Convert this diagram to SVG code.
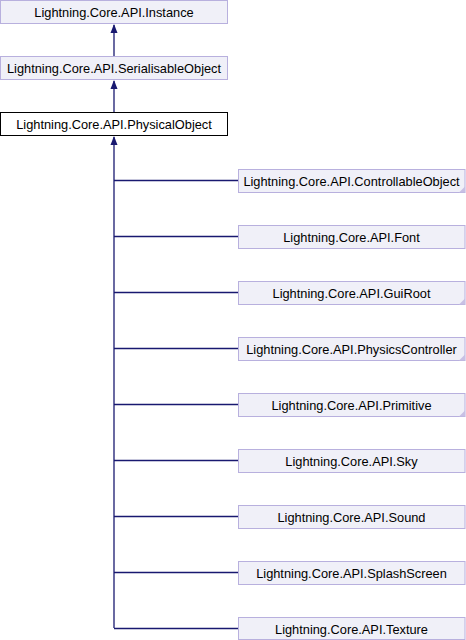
<svg xmlns="http://www.w3.org/2000/svg" width="466" height="640" viewBox="0 0 466 640">
<style>
.box{fill:#f0f0f8;stroke:#b8b0de;stroke-width:1}
.cur{fill:#ffffff;stroke:#000000;stroke-width:1}
.lbl{font-family:"Liberation Sans",Arial,sans-serif;font-size:12.8px;fill:#000;text-anchor:middle}
.edge{fill:none;stroke:#191970;stroke-width:1.3}
.fold{fill:#c8c0e4;stroke:none}
.head{fill:#191970}
</style>
<rect width="466" height="640" fill="#ffffff"/>
<g id="connectors">
<path class="edge" d="M114,56 V25"/>
<path class="edge" d="M114,112 V81"/>
<path class="edge" d="M114,628 V137"/>
<path class="head" d="M114,24 L110.5,33 L117.5,33 Z"/>
<path class="head" d="M114,80 L110.5,89 L117.5,89 Z"/>
<path class="head" d="M114,136 L110.5,145 L117.5,145 Z"/>
<path class="edge" d="M114,180.5 H238"/>
<path class="edge" d="M114,236.5 H238"/>
<path class="edge" d="M114,292.5 H238"/>
<path class="edge" d="M114,348.5 H238"/>
<path class="edge" d="M114,404.5 H238"/>
<path class="edge" d="M114,460.5 H238"/>
<path class="edge" d="M114,516.5 H238"/>
<path class="edge" d="M114,572.5 H238"/>
<path class="edge" d="M114,628.5 H238"/>
</g>
<g id="instance"><rect class="box" x="0.5" y="0.5" width="227" height="23"/><text class="lbl" x="114" y="16.5">Lightning.Core.API.Instance</text></g>
<g id="serialisable"><rect class="box" x="0.5" y="56.5" width="227" height="23"/><text class="lbl" x="114" y="72.5">Lightning.Core.API.SerialisableObject</text></g>
<g id="physical"><rect class="cur" x="0.5" y="112.5" width="227" height="23"/><text class="lbl" x="114" y="128.5">Lightning.Core.API.PhysicalObject</text></g>
<g id="controllable"><rect class="box" x="238.5" y="169.5" width="226.5" height="23"/><polygon class="fold" points="459,192.5 465,186.5 465,192.5"/><text class="lbl" x="351.5" y="185.5">Lightning.Core.API.ControllableObject</text></g>
<g id="font"><rect class="box" x="238.5" y="225.5" width="226.5" height="23"/><text class="lbl" x="351.5" y="241.5">Lightning.Core.API.Font</text></g>
<g id="guiroot"><rect class="box" x="238.5" y="281.5" width="226.5" height="23"/><polygon class="fold" points="459,304.5 465,298.5 465,304.5"/><text class="lbl" x="351.5" y="297.5">Lightning.Core.API.GuiRoot</text></g>
<g id="physicscontroller"><rect class="box" x="238.5" y="337.5" width="226.5" height="23"/><polygon class="fold" points="459,360.5 465,354.5 465,360.5"/><text class="lbl" x="351.5" y="353.5">Lightning.Core.API.PhysicsController</text></g>
<g id="primitive"><rect class="box" x="238.5" y="393.5" width="226.5" height="23"/><polygon class="fold" points="459,416.5 465,410.5 465,416.5"/><text class="lbl" x="351.5" y="409.5">Lightning.Core.API.Primitive</text></g>
<g id="sky"><rect class="box" x="238.5" y="449.5" width="226.5" height="23"/><text class="lbl" x="351.5" y="465.5">Lightning.Core.API.Sky</text></g>
<g id="sound"><rect class="box" x="238.5" y="505.5" width="226.5" height="23"/><text class="lbl" x="351.5" y="521.5">Lightning.Core.API.Sound</text></g>
<g id="splashscreen"><rect class="box" x="238.5" y="561.5" width="226.5" height="23"/><text class="lbl" x="351.5" y="577.5">Lightning.Core.API.SplashScreen</text></g>
<g id="texture"><rect class="box" x="238.5" y="617.5" width="226.5" height="22"/><text class="lbl" x="351.5" y="633.5">Lightning.Core.API.Texture</text></g>
</svg>
